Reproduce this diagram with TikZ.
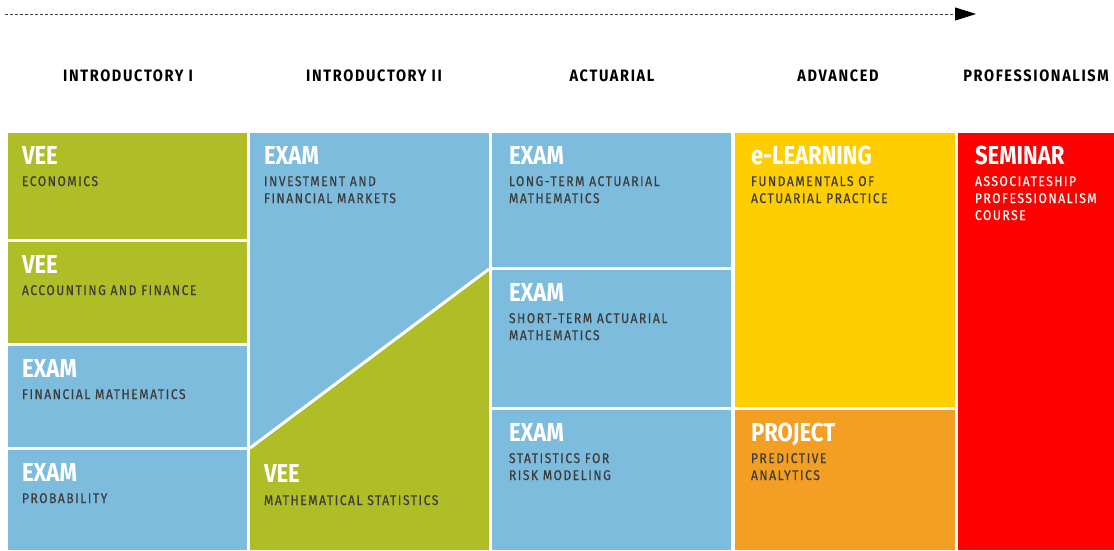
\documentclass[tikz,border=0pt]{standalone}
\usepackage{fontspec}
\usepackage{xcolor}
\usepackage{tikz}
\usetikzlibrary{arrows.meta}
\usetikzlibrary{positioning}

\newfontfamily\titlefont[FakeStretch=0.85]{Fira Sans}
\newfontfamily\subfont[FakeStretch=0.86,LetterSpace=11,FakeBold=0.4]{Fira Sans}
\newfontfamily\headfont[FakeStretch=0.88,LetterSpace=10]{Fira Sans}

\definecolor{veegreen}{HTML}{AFBD26}
\definecolor{examblue}{HTML}{7DBCDD}
\definecolor{learnyellow}{HTML}{FFCE00}
\definecolor{projorange}{HTML}{F29F23}
\definecolor{semred}{HTML}{FF0000}
\definecolor{subgray}{HTML}{3C3C3C}

\begin{document}
\begin{tikzpicture}[
  x=1pt, y=-1pt,
  inner sep=0pt, outer sep=0pt
]
\tikzset{
    block/.style = {rectangle, anchor=north west, draw=none},
    blocktitle/.style = {anchor=base west, xshift=14pt, yshift=-31pt, text=white, font=\titlefont\bfseries\fontsize{26}{26}\selectfont},
    blocksub/.style = {anchor=base west, xshift=14pt, yshift=-53pt, align=left, text=subgray, font=\subfont\fontsize{14}{17}\selectfont},
    twolines/.style = {yshift=-17pt},
    threelines/.style = {yshift=-34pt},
    header/.style = {anchor=base, font=\headfont\bfseries\fontsize{16.5}{17}\selectfont}
}
\useasboundingbox (0,0) rectangle (1114,550);

% timeline arrow
\coordinate (start) at (5,14);
\coordinate (goal) at (976,14);
\draw[densely dashed, gray!50!black, line width=0.9pt, -{Triangle[length=21pt,width=13pt,black]}] (start) -- (goal);

% column headers
\node[header] (h1) at (128,81) {INTRODUCTORY I};
\node[header] (h2) at (374,81) {INTRODUCTORY II};
\node[header] (h3) at (612,81) {ACTUARIAL};
\node[header] (h4) at (838,81) {ADVANCED};
\node[header] (h5) at (1036,81) {PROFESSIONALISM};

% introductory I
\node[block, fill=veegreen, minimum width=239pt, minimum height=106pt] (econ) at (8,133) {};
\node[blocktitle] (econT) at (econ.north west) {VEE};
\node[blocksub] (econS) at (econ.north west) {ECONOMICS};

\node[block, fill=veegreen, minimum width=239pt, minimum height=101pt] (acct) at (8,242) {};
\node[blocktitle] (acctT) at (acct.north west) {VEE};
\node[blocksub] (acctS) at (acct.north west) {ACCOUNTING AND FINANCE};

\node[block, fill=examblue, minimum width=239pt, minimum height=101pt] (finmath) at (8,346) {};
\node[blocktitle] (finmathT) at (finmath.north west) {EXAM};
\node[blocksub] (finmathS) at (finmath.north west) {FINANCIAL MATHEMATICS};

\node[block, fill=examblue, minimum width=239pt, minimum height=100pt] (prob) at (8,450) {};
\node[blocktitle] (probT) at (prob.north west) {EXAM};
\node[blocksub] (probS) at (prob.north west) {PROBABILITY};

% introductory II
\node[block, fill=examblue, minimum width=239pt, minimum height=417pt] (invest) at (250,133) {};
\coordinate (diagL) at (250,448);
\coordinate (diagR) at (489,269);
\fill[veegreen] (diagL) -- (diagR) -- (invest.south east) -- (invest.south west) -- cycle;
\draw[white, line width=3pt] (diagL) -- (diagR);
\node[blocktitle] (investT) at (invest.north west) {EXAM};
\node[blocksub, twolines] (investS) at (invest.north west) {INVESTMENT AND\\FINANCIAL MARKETS};
\node[blocktitle, yshift=-318pt] (statsT) at (invest.north west) {VEE};
\node[blocksub, yshift=-319pt] (statsS) at (invest.north west) {MATHEMATICAL STATISTICS};

% actuarial
\node[block, fill=examblue, minimum width=239pt, minimum height=134pt] (ltam) at (492,133) {};
\node[blocktitle, xshift=3pt] (ltamT) at (ltam.north west) {EXAM};
\node[blocksub, twolines, xshift=3pt] (ltamS) at (ltam.north west) {LONG-TERM ACTUARIAL\\MATHEMATICS};

\node[block, fill=examblue, minimum width=239pt, minimum height=137pt] (stam) at (492,270) {};
\node[blocktitle, xshift=3pt] (stamT) at (stam.north west) {EXAM};
\node[blocksub, twolines, xshift=3pt] (stamS) at (stam.north west) {SHORT-TERM ACTUARIAL\\MATHEMATICS};

\node[block, fill=examblue, minimum width=239pt, minimum height=140pt] (srm) at (492,410) {};
\node[blocktitle, xshift=3pt] (srmT) at (srm.north west) {EXAM};
\node[blocksub, twolines, xshift=3pt] (srmS) at (srm.north west) {STATISTICS FOR\\RISK MODELING};

% advanced
\node[block, fill=learnyellow, minimum width=220pt, minimum height=274pt] (fap) at (735,133) {};
\node[blocktitle, xshift=2pt] (fapT) at (fap.north west) {e-LEARNING};
\node[blocksub, twolines, xshift=2pt] (fapS) at (fap.north west) {FUNDAMENTALS OF\\ACTUARIAL PRACTICE};

\node[block, fill=projorange, minimum width=220pt, minimum height=140pt] (pa) at (735,410) {};
\node[blocktitle, xshift=2pt] (paT) at (pa.north west) {PROJECT};
\node[blocksub, twolines, xshift=2pt] (paS) at (pa.north west) {PREDICTIVE\\ANALYTICS};

% professionalism
\node[block, fill=semred, minimum width=156pt, minimum height=417pt] (apc) at (958,133) {};
\node[blocktitle, xshift=3pt] (apcT) at (apc.north west) {SEMINAR};
\node[blocksub, threelines, xshift=3pt, text=white] (apcS) at (apc.north west) {ASSOCIATESHIP\\PROFESSIONALISM\\COURSE};
\end{tikzpicture}
\end{document}
